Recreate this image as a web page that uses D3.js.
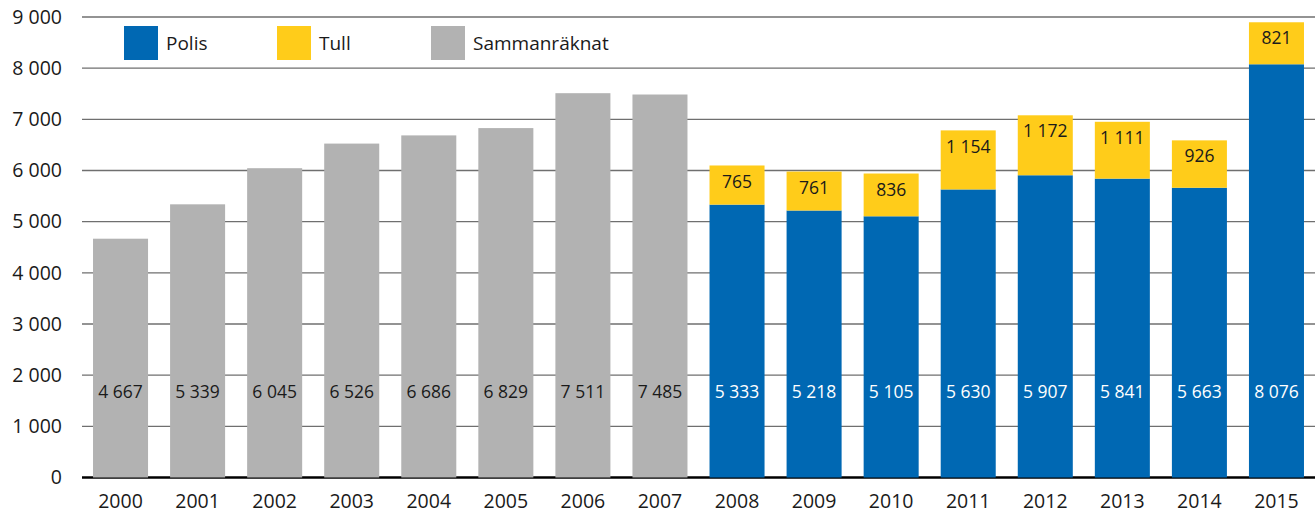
<!DOCTYPE html>
<html>
<head>
<meta charset="utf-8">
<script src="https://cdn.jsdelivr.net/npm/d3@7"></script>
<style>
  body { margin: 0; background: #fff; }
  svg { display: block; font-family: "Open Sans", "Noto Sans", sans-serif; }
</style>
</head>
<body>
<div id="chart"></div>
<script>
// years on the x axis
const years = ['2000','2001','2002','2003','2004','2005','2006','2007',
               '2008','2009','2010','2011','2012','2013','2014','2015'];
// combined totals 2000-2007
const sammanraknat = [4667, 5339, 6045, 6526, 6686, 6829, 7511, 7485, null, null, null, null, null, null, null, null];
// police 2008-2015
const polis = [null, null, null, null, null, null, null, null, 5333, 5218, 5105, 5630, 5907, 5841, 5663, 8076];
// customs 2008-2015
const tull = [null, null, null, null, null, null, null, null, 765, 761, 836, 1154, 1172, 1111, 926, 821];
const yTicks = [0, 1000, 2000, 3000, 4000, 5000, 6000, 7000, 8000, 9000];

const colors = { polis: '#0068b3', tull: '#ffcc1a', samman: '#b2b2b2' };

const width = 1315, height = 513;
const margin = { top: 17, right: 0, bottom: 35.5, left: 82 };

const svg = d3.select('#chart').append('svg')
  .attr('width', width)
  .attr('height', height);

const fmt = d3.formatLocale({ decimal: ',', thousands: ' ', grouping: [3], currency: ['', ''] }).format(',d');

const x = d3.scaleBand()
  .domain(years)
  .range([margin.left, width - margin.right])
  .paddingInner(0.286)
  .paddingOuter(0.143);

const y = d3.scaleLinear()
  .domain([0, 9000])
  .range([height - margin.bottom, margin.top]);

// gridlines
svg.append('g')
  .selectAll('line')
  .data(yTicks.filter(d => d > 0))
  .enter().append('line')
  .attr('x1', margin.left)
  .attr('x2', width)
  .attr('y1', d => y(d))
  .attr('y2', d => y(d))
  .attr('stroke', '#6f6f6f')
  .attr('stroke-width', 1.3);

// y tick labels
svg.append('g')
  .selectAll('text')
  .data(yTicks)
  .enter().append('text')
  .attr('x', 62)
  .attr('y', d => y(d))
  .attr('dy', '0.35em')
  .attr('text-anchor', 'end')
  .attr('font-size', 19.5)
  .attr('fill', '#1a1a1a')
  .text(d => fmt(d));

// baseline
svg.append('line')
  .attr('x1', margin.left)
  .attr('x2', width)
  .attr('y1', y(0))
  .attr('y2', y(0))
  .attr('stroke', '#000')
  .attr('stroke-width', 2.5);

const rows = years.map((yr, i) => ({ yr, samman: sammanraknat[i], polis: polis[i], tull: tull[i] }));

// bars
const bars = svg.append('g');
rows.forEach(d => {
  if (d.samman != null) {
    bars.append('rect')
      .attr('x', x(d.yr)).attr('width', x.bandwidth())
      .attr('y', y(d.samman)).attr('height', y(0) - y(d.samman))
      .attr('fill', colors.samman);
  }
  if (d.polis != null) {
    bars.append('rect')
      .attr('x', x(d.yr)).attr('width', x.bandwidth())
      .attr('y', y(d.polis)).attr('height', y(0) - y(d.polis))
      .attr('fill', colors.polis);
    bars.append('rect')
      .attr('x', x(d.yr)).attr('width', x.bandwidth())
      .attr('y', y(d.polis + d.tull)).attr('height', y(d.polis) - y(d.polis + d.tull))
      .attr('fill', colors.tull);
  }
});

// value labels
const labels = svg.append('g')
  .attr('font-size', 17.5)
  .attr('text-anchor', 'middle');
rows.forEach(d => {
  const cx = x(d.yr) + x.bandwidth() / 2;
  if (d.samman != null) {
    labels.append('text').attr('x', cx).attr('y', y(1670)).attr('dy', '0.35em')
      .attr('fill', '#1a1a1a').text(fmt(d.samman));
  }
  if (d.polis != null) {
    labels.append('text').attr('x', cx).attr('y', y(1670)).attr('dy', '0.35em')
      .attr('fill', '#fff').text(fmt(d.polis));
    labels.append('text').attr('x', cx).attr('y', y(d.polis + d.tull) + 16).attr('dy', '0.35em')
      .attr('fill', '#1a1a1a').text(fmt(d.tull));
  }
});

// x labels
svg.append('g')
  .selectAll('text')
  .data(years)
  .enter().append('text')
  .attr('x', d => x(d) + x.bandwidth() / 2)
  .attr('y', 501)
  .attr('dy', '0.35em')
  .attr('text-anchor', 'middle')
  .attr('font-size', 19.5)
  .attr('fill', '#1a1a1a')
  .text(d => d);

// legend
const legendItems = [
  { label: 'Polis', color: colors.polis, x: 124 },
  { label: 'Tull', color: colors.tull, x: 277 },
  { label: 'Sammanräknat', color: colors.samman, x: 431 }
];
const legend = svg.append('g');
legendItems.forEach(item => {
  legend.append('rect')
    .attr('x', item.x).attr('y', 26)
    .attr('width', 34).attr('height', 34)
    .attr('fill', item.color);
  legend.append('text')
    .attr('x', item.x + 42).attr('y', 43)
    .attr('dy', '0.35em')
    .attr('font-size', 19)
    .attr('fill', '#1a1a1a')
    .text(item.label);
});
</script>
</body>
</html>
